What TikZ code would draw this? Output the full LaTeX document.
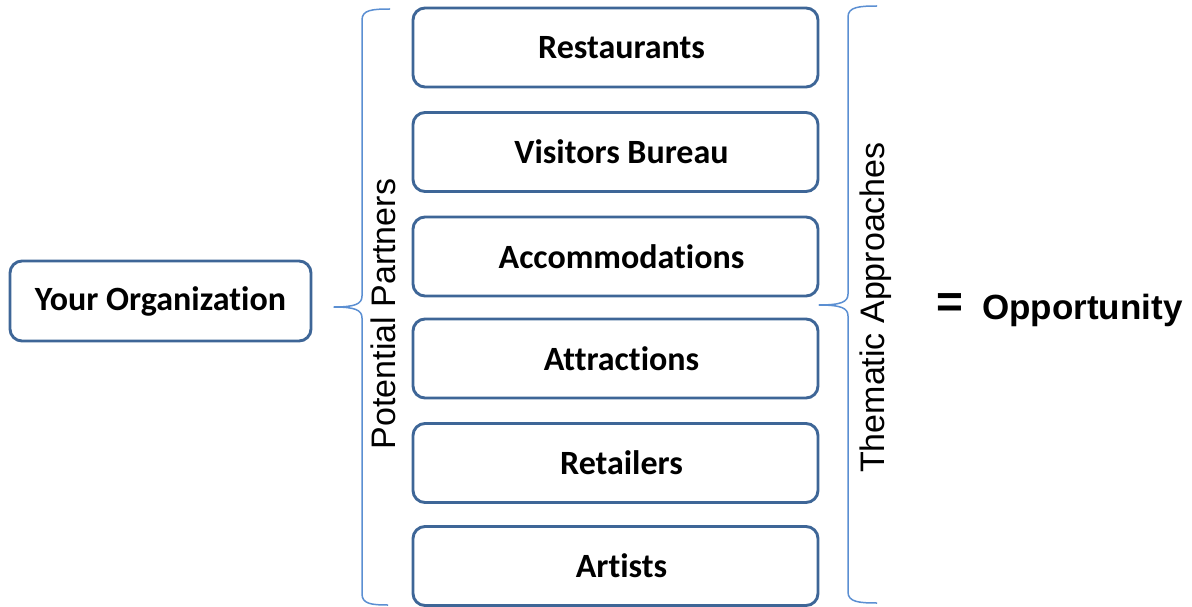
\documentclass[tikz,border=0pt]{standalone}
\usepackage{fontspec}
\setmainfont{Carlito}[Ligatures=NoCommon]
\newfontfamily\arialfont{Liberation Sans}
\definecolor{boxline}{HTML}{3E6697}
\definecolor{braceline}{HTML}{5B8FD2}
\begin{document}
\begin{tikzpicture}[x=1pt,y=-1pt,
  basebox/.style={draw=boxline, line width=2.9pt, rounded corners=12pt,
    inner sep=0pt, fill=white, font=\fontsize{34}{38}\selectfont\bfseries},
  partnerbox/.style={basebox, minimum width=405pt, minimum height=79pt,
    execute at begin node=\hspace*{12pt}},
  orgbox/.style={basebox, minimum width=301pt, minimum height=80pt},
  bracepath/.style={draw=braceline, line width=1.5pt, line join=round},
  sidelabel/.style={rotate=90, inner sep=0pt, font=\arialfont\fontsize{34}{38}\selectfont}
]
\useasboundingbox (0,0) rectangle (1192,607);

% organisation box
\node[orgbox] (org) at (160.5,301) {Your Organization};

% partner boxes
\node[partnerbox] (rest) at (615.5,47.5) {Restaurants};
\node[partnerbox] (visit) at (615.5,152) {Visitors Bureau};
\node[partnerbox] (accom) at (615.5,256.5) {Accommodations};
\node[partnerbox] (attr) at (615.5,358.5) {Attractions};
\node[partnerbox] (retail) at (615.5,463) {Retailers};
\node[partnerbox] (art) at (615.5,566) {Artists};

% left brace
\coordinate (lb) at (334,307);
\draw[bracepath] (390,9) .. controls (372,9) and (362,10) .. (362,20)
  -- (362,296) .. controls (362,304) and (355,307) .. (lb)
  .. controls (355,307) and (362,310) .. (362,318)
  -- (362,594) .. controls (362,604) and (372,605) .. (388,605);

% right brace
\coordinate (rb) at (819,305);
\draw[bracepath] (877,6) .. controls (859,6) and (848,7) .. (848,17)
  -- (848,294) .. controls (848,302) and (841,305) .. (rb)
  .. controls (841,305) and (848,308) .. (848,316)
  -- (848,592) .. controls (848,602) and (859,603) .. (877,603);

% brace labels
\node[sidelabel, anchor=base] (pp) at (395,314) {Potential Partners};
\node[sidelabel, anchor=base] (ta) at (884,307.5) {Thematic Approaches};

% result
\node[inner sep=0pt, font=\arialfont\bfseries\fontsize{46}{50}\selectfont] (eq) at (950,306) {=};
\node[inner sep=0pt, anchor=west, font=\arialfont\bfseries\fontsize{35}{38}\selectfont] (opp) at (982,310) {Opportunity};
\end{tikzpicture}
\end{document}
